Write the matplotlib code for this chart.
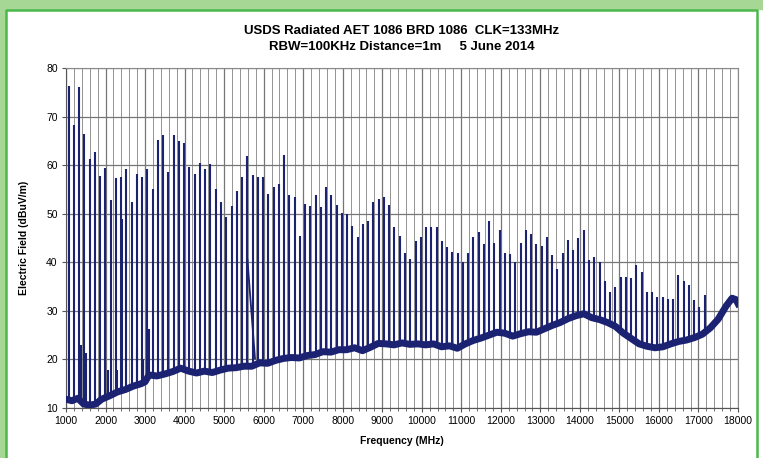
import numpy as np
import matplotlib
matplotlib.use("Agg")
import matplotlib.pyplot as plt
from matplotlib.ticker import MultipleLocator
from matplotlib.patches import Rectangle
from matplotlib.lines import Line2D

plt.rcParams['font.family'] = ['Liberation Sans', 'DejaVu Sans']

# clock harmonics (133 MHz) and their peak levels
harmonic_mhz = [1064, 1197, 1330, 1463, 1596, 1729, 1862, 1995, 2128, 2261,
                2394, 2527, 2660, 2793, 2926, 3059, 3192, 3325, 3458, 3591,
                3724, 3857, 3990, 4123, 4256, 4389, 4522, 4655, 4788, 4921,
                5054, 5187, 5320, 5453, 5586, 5719, 5852, 5985, 6118, 6251,
                6384, 6517, 6650, 6783, 6916, 7049, 7182, 7315, 7448, 7581,
                7714, 7847, 7980, 8113, 8246, 8379, 8512, 8645, 8778, 8911,
                9044, 9177, 9310, 9443, 9576, 9709, 9842, 9975, 10108, 10241,
                10374, 10507, 10640, 10773, 10906, 11039, 11172, 11305, 11438, 11571,
                11704, 11837, 11970, 12103, 12236, 12369, 12502, 12635, 12768, 12901,
                13034, 13167, 13300, 13433, 13566, 13699, 13832, 13965, 14098, 14231,
                14364, 14497, 14630, 14763, 14896, 15029, 15162, 15295, 15428, 15561,
                15694, 15827, 15960, 16093, 16226, 16359, 16492, 16625, 16758, 16891,
                17024, 17157]
harmonic_db = [76.3, 68.3, 76.0, 66.4, 61.3, 62.8, 57.8, 59.4, 52.9, 57.3,
               57.5, 59.2, 52.5, 58.2, 57.5, 59.2, 55.0, 65.1, 66.2, 58.5,
               66.2, 65.0, 64.5, 59.6, 58.2, 60.5, 59.3, 60.3, 55.1, 52.5,
               49.3, 51.5, 54.7, 57.5, 61.9, 58.0, 57.5, 57.5, 54.1, 55.4,
               56.2, 62.1, 53.9, 53.4, 45.5, 52.0, 51.6, 53.8, 51.3, 55.5,
               53.8, 51.7, 50.1, 49.9, 47.5, 45.2, 47.9, 48.6, 52.4, 53.0,
               53.4, 51.7, 47.2, 45.5, 42.0, 40.7, 44.4, 45.2, 47.2, 47.2,
               47.2, 44.4, 43.2, 42.1, 41.9, 40.0, 42.0, 45.2, 46.2, 43.8,
               48.6, 44.0, 46.7, 41.9, 41.7, 40.0, 44.0, 46.6, 45.9, 43.8,
               43.3, 45.2, 41.4, 38.6, 42.0, 44.6, 42.6, 45.0, 46.7, 40.5,
               41.1, 40.0, 36.1, 33.9, 34.9, 37.0, 37.0, 36.8, 39.5, 37.9,
               33.8, 33.9, 32.8, 32.8, 32.5, 32.5, 37.3, 36.1, 35.4, 32.2,
               30.8, 33.3]

# smaller non-harmonic emissions
other_mhz = [1371, 1510, 2070, 2300, 2424, 2805, 2956, 3100]
other_db = [23.0, 21.3, 17.9, 17.8, 49.0, 22.4, 20.1, 26.3]

# sweep artefact near 5.6 GHz
artefact_mhz = [5590, 5781]
artefact_db = [40.5, 20.2]

# noise floor
floor_mhz = [1000, 1150, 1300, 1450, 1600, 1750, 1900, 2100, 2300, 2500,
             2700, 2900, 3000, 3100, 3300, 3500, 3700, 3900, 4100, 4300,
             4500, 4700, 4900, 5100, 5300, 5500, 5700, 5900, 6100, 6300,
             6500, 6700, 6900, 7100, 7300, 7500, 7700, 7900, 8100, 8300,
             8500, 8700, 8900, 9100, 9300, 9500, 9700, 9900, 10100, 10300,
             10500, 10700, 10900, 11100, 11300, 11500, 11700, 11900, 12100, 12300,
             12500, 12700, 12900, 13100, 13300, 13500, 13700, 13900, 14100, 14300,
             14500, 14700, 14900, 15100, 15300, 15500, 15700, 15900, 16100, 16300,
             16500, 16700, 16900, 17100, 17300, 17500, 17700, 17850, 17950, 18000]
floor_db = [11.8, 11.5, 12.0, 10.8, 10.6, 10.8, 11.8, 12.5, 13.3, 13.8,
            14.5, 15.0, 15.4, 16.8, 16.6, 17.0, 17.5, 18.2, 17.6, 17.2,
            17.6, 17.3, 17.8, 18.2, 18.3, 18.6, 18.6, 19.3, 19.2, 19.8,
            20.2, 20.4, 20.3, 20.8, 21.0, 21.6, 21.5, 22.0, 22.0, 22.4,
            21.8, 22.5, 23.3, 23.2, 23.0, 23.4, 23.1, 23.2, 23.0, 23.2,
            22.6, 22.8, 22.3, 23.2, 23.9, 24.4, 25.0, 25.6, 25.4, 24.8,
            25.3, 25.7, 25.6, 26.3, 27.0, 27.6, 28.4, 29.0, 29.4, 28.6,
            28.2, 27.6, 26.8, 25.4, 24.3, 23.2, 22.7, 22.4, 22.6, 23.2,
            23.7, 24.0, 24.5, 25.2, 26.5, 28.3, 31.0, 32.6, 32.3, 31.5]

navy = '#1c2272'

fig = plt.figure(figsize=(7.63, 4.58), dpi=100, facecolor='white')

# green frame around the panel
fig.patches.append(Rectangle((0, 1 - 9 / 458), 1, 9 / 458, transform=fig.transFigure,
                             color='#a6d795', zorder=0))
fig.patches.append(Rectangle((0, 0), 5 / 763, 1, transform=fig.transFigure,
                             color='#a6d795', zorder=0))
fig.lines.append(Line2D([5.5 / 763, 5.5 / 763, 757 / 763, 757 / 763],
                        [0, 1 - 10 / 458, 1 - 10 / 458, 0], transform=fig.transFigure,
                        color='#4cb84c', lw=1.8))

ax = fig.add_axes([66 / 763, 1 - 408 / 458, 672 / 763, 340 / 458])

# region above the noise floor, used to clip the spikes
clip_poly = ax.fill_between(floor_mhz, floor_db, 80, color='none', lw=0)

spikes = ax.vlines(harmonic_mhz, 10, harmonic_db, color=navy, lw=1.5, zorder=3)
spikes.set_clip_path(clip_poly.get_paths()[0], ax.transData)
others = ax.vlines(other_mhz, 10, other_db, color=navy, lw=1.5, zorder=3)
others.set_clip_path(clip_poly.get_paths()[0], ax.transData)
ax.plot(artefact_mhz, artefact_db, color=navy, lw=1.3, zorder=3)
ax.plot(floor_mhz, floor_db, color=navy, lw=5, solid_joinstyle='round', zorder=4)

ax.set_xlim(1000, 18000)
ax.set_ylim(10, 80)
ax.xaxis.set_major_locator(MultipleLocator(1000))
ax.xaxis.set_minor_locator(MultipleLocator(200))
ax.yaxis.set_major_locator(MultipleLocator(10))
ax.grid(which='major', axis='both', color='#767676', lw=0.9)
ax.grid(which='minor', axis='x', color='#939393', lw=0.7)
ax.set_axisbelow(True)
for s in ax.spines.values():
    s.set_color('#8a8a8a')
    s.set_linewidth(0.8)
ax.spines['left'].set_color('#555555')
ax.spines['bottom'].set_color('#555555')
ax.tick_params(axis='both', which='major', labelsize=7.5, length=3, color='#555555', pad=3)
ax.tick_params(axis='x', which='minor', length=2, color='#555555')

ax.set_xlabel('Frequency (MHz)', fontsize=7.5, fontweight='bold', labelpad=7)
ax.set_ylabel('Electric Field (dBuV/m)', fontsize=7.5, fontweight='bold', labelpad=12)

fig.text(402 / 763, 1 - 31 / 458, 'USDS Radiated AET 1086 BRD 1086  CLK=133MHz',
         ha='center', va='center', fontsize=9.5, fontweight='bold')
fig.text(402 / 763, 1 - 47 / 458, 'RBW=100KHz Distance=1m     5 June 2014',
         ha='center', va='center', fontsize=9.5, fontweight='bold')

fig.savefig('out.png', dpi=100)
